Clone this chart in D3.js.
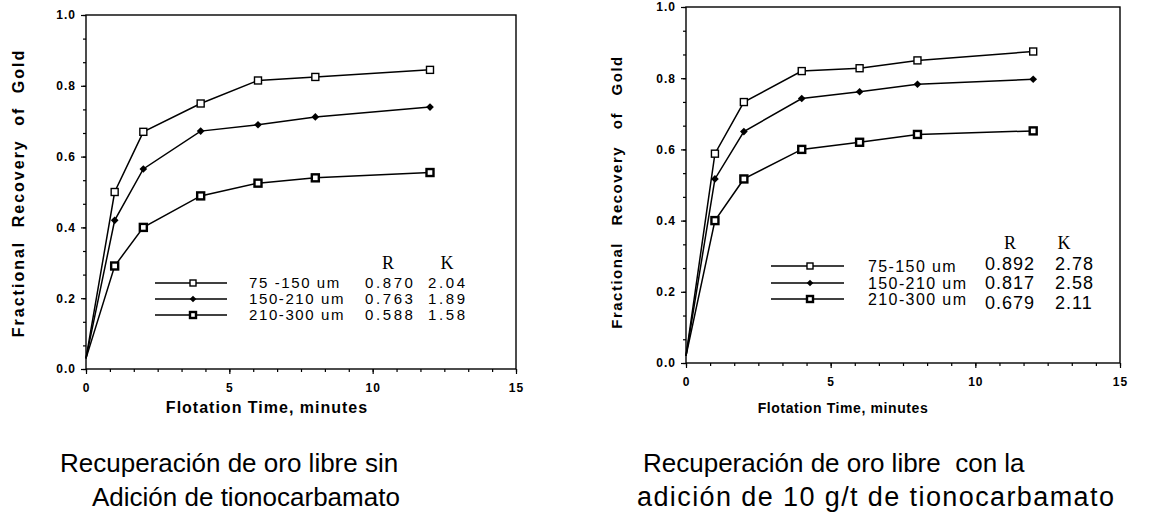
<!DOCTYPE html>
<html>
<head>
<meta charset="utf-8">
<script src="https://cdn.jsdelivr.net/npm/d3@7"></script>
<style>
  html, body { margin: 0; padding: 0; background: #fff; }
  svg { display: block; }
</style>
</head>
<body>
<svg id="chart" width="1153" height="514"></svg>
<script>
// ---- data ----
const times = [0, 1, 2, 4, 6, 8, 12];
const seriesNames = ["75 -150 um", "150-210 um", "210-300 um"];
const seriesNamesRight = ["75-150 um", "150-210 um", "210-300 um"];

// Left panel: without thionocarbamate
const leftS1 = [0.03, 0.50, 0.67, 0.75, 0.815, 0.825, 0.845];
const leftS2 = [0.03, 0.42, 0.565, 0.672, 0.69, 0.712, 0.74];
const leftS3 = [0.03, 0.291, 0.40, 0.489, 0.525, 0.54, 0.555];
const leftR = ["0.870", "0.763", "0.588"];
const leftK = ["2.04", "1.89", "1.58"];

// Right panel: with 10 g/t thionocarbamate
const rightS1 = [0.02, 0.588, 0.733, 0.82, 0.828, 0.85, 0.875];
const rightS2 = [0.02, 0.517, 0.65, 0.743, 0.762, 0.783, 0.797];
const rightS3 = [0.02, 0.40, 0.517, 0.60, 0.62, 0.642, 0.652];
const rightR = ["0.892", "0.817", "0.679"];
const rightK = ["2.78", "2.58", "2.11"];

const xTicks = [0, 5, 10, 15];
const yTicks = [0.0, 0.2, 0.4, 0.6, 0.8, 1.0];
const xTitle = "Flotation Time, minutes";
const yTitleWords = ["Fractional", "Recovery", "of", "Gold"];
const captionLeft = ["Recuperación de oro libre sin", "Adición de tionocarbamato"];
const captionRight = ["Recuperación de oro libre  con la", "adición de 10 g/t de tionocarbamato"];

const svg = d3.select("#chart");
const SANS = "'Liberation Sans', Arial, sans-serif";
const SERIF = "'Liberation Serif', 'Times New Roman', serif";

function marker(g, type, x, y, s) {
  if (type === 0) {
    g.append("rect").attr("x", x - s/2).attr("y", y - s/2).attr("width", s).attr("height", s)
      .attr("fill", "#fff").attr("stroke", "#000").attr("stroke-width", 1.4);
  } else if (type === 1) {
    const d = s * 0.55;
    g.append("path").attr("d", `M${x},${y-d}L${x+d},${y}L${x},${y+d}L${x-d},${y}Z`).attr("fill", "#000");
  } else {
    g.append("rect").attr("x", x - s/2).attr("y", y - s/2).attr("width", s).attr("height", s)
      .attr("fill", "#fff").attr("stroke", "#000").attr("stroke-width", 2.4);
  }
}

function panel(cfg) {
  const x = d3.scaleLinear().domain([0, 15]).range([cfg.x0, cfg.x1]);
  const y = d3.scaleLinear().domain([0, 1]).range([cfg.y0, cfg.y1]);
  const g = svg.append("g");

  // frame
  g.append("rect").attr("x", cfg.x0).attr("y", cfg.y1).attr("width", cfg.x1 - cfg.x0).attr("height", cfg.y0 - cfg.y1)
    .attr("fill", "none").attr("stroke", "#000").attr("stroke-width", 1.4);

  // minor ticks
  const xMinor = d3.range(0, 15.001, 5/6);
  const yMinor = d3.range(0, 1.0001, 0.2/3);
  g.append("g").attr("transform", `translate(0,${cfg.y0})`)
    .call(d3.axisBottom(x).tickValues(xMinor).tickSize(3).tickFormat(""))
    .call(a => a.select(".domain").remove());
  g.append("g").attr("transform", `translate(${cfg.x0},0)`)
    .call(d3.axisLeft(y).tickValues(yMinor).tickSize(3).tickFormat(""))
    .call(a => a.select(".domain").remove());
  // major ticks with labels
  const xa = g.append("g").attr("transform", `translate(0,${cfg.y0})`)
    .call(d3.axisBottom(x).tickValues(xTicks).tickSize(5).tickPadding(9).tickFormat(d3.format("d")));
  const ya = g.append("g").attr("transform", `translate(${cfg.x0},0)`)
    .call(d3.axisLeft(y).tickValues(yTicks).tickSize(5).tickPadding(5).tickFormat(d3.format(".1f")));
  [xa, ya].forEach(a => {
    a.select(".domain").remove();
    a.selectAll("text").attr("font-family", SANS).attr("font-weight", "bold")
      .attr("font-size", 12).attr("letter-spacing", "1px").attr("fill", "#000");
  });
  g.selectAll(".tick line").attr("stroke", "#000").attr("stroke-width", 1.2);

  // lines
  const line = d3.line().x((d, i) => x(times[i])).y(d => y(d));
  cfg.series.forEach((s) => {
    g.append("path").datum(s).attr("d", line).attr("fill", "none")
      .attr("stroke", "#000").attr("stroke-width", 1.5);
  });
  cfg.series.forEach((s, si) => {
    s.forEach((v, i) => { if (i > 0) marker(g, si, x(times[i]), y(v), 7); });
  });

  // axis titles
  g.append("text").attr("x", cfg.xtX).attr("y", cfg.xtY).attr("text-anchor", "middle")
    .attr("font-family", SANS).attr("font-weight", "bold").attr("font-size", cfg.xtSize)
    .attr("letter-spacing", cfg.xtLs).text(xTitle);
  g.append("text").attr("transform", `translate(${cfg.ytX},${cfg.ytY}) rotate(-90)`)
    .attr("text-anchor", "middle").attr("font-family", SANS).attr("font-weight", "bold")
    .attr("font-size", cfg.ytSize).attr("letter-spacing", cfg.ytLs).attr("word-spacing", cfg.ytWs)
    .text(yTitleWords.join(" "));

  // legend
  const L = cfg.legend;
  g.append("text").attr("x", L.rX).attr("y", L.hY).attr("text-anchor", "middle")
    .attr("font-family", SERIF).attr("font-size", L.hSize).text("R");
  g.append("text").attr("x", L.kX).attr("y", L.hY).attr("text-anchor", "middle")
    .attr("font-family", SERIF).attr("font-size", L.hSize).text("K");
  cfg.names.forEach((n, i) => {
    const ry = L.rows[i];
    g.append("line").attr("x1", L.lx0).attr("x2", L.lx1).attr("y1", ry).attr("y2", ry)
      .attr("stroke", "#000").attr("stroke-width", 1.3);
    marker(g, i, L.mx, ry, 6);
    g.append("text").attr("x", L.tX).attr("y", ry).attr("dy", "0.36em")
      .attr("font-family", SANS).attr("font-size", L.tSize).attr("letter-spacing", L.tLs).text(n);
    g.append("text").attr("x", L.vX).attr("y", L.vRows[i]).attr("dy", "0.36em")
      .attr("font-family", SANS).attr("font-size", L.vSize).attr("letter-spacing", L.vLs).text(cfg.R[i]);
    g.append("text").attr("x", L.v2X).attr("y", L.vRows[i]).attr("dy", "0.36em")
      .attr("font-family", SANS).attr("font-size", L.vSize).attr("letter-spacing", L.vLs).text(cfg.K[i]);
  });

  // caption
  cfg.caption.forEach((c, i) => {
    g.append("text").attr("x", cfg.capX[i]).attr("y", cfg.capY[i]).attr("text-anchor", "start")
      .attr("font-family", SANS).attr("font-size", cfg.capSize[i]).attr("letter-spacing", cfg.capLs[i])
      .style("white-space", "pre").text(c);
  });
}

panel({
  x0: 86, x1: 516, y0: 369, y1: 15,
  series: [leftS1, leftS2, leftS3], names: seriesNames, R: leftR, K: leftK,
  xtX: 267, xtY: 413, xtSize: 16, xtLs: "1px",
  ytX: 24, ytY: 193, ytSize: 16, ytLs: "2px", ytWs: "7px",
  legend: { hY: 269, rX: 388, kX: 447, hSize: 18, rows: [283, 299, 315], vRows: [283, 299, 315],
            lx0: 155, lx1: 227, mx: 193, tX: 249, tSize: 15, tLs: "1.6px",
            vX: 365, v2X: 428, vSize: 15, vLs: "2.6px" },
  caption: captionLeft, capX: [60, 92], capY: [472, 506], capSize: [26, 26], capLs: ["0px", "0px"]
});

panel({
  x0: 686, x1: 1120, y0: 363, y1: 7,
  series: [rightS1, rightS2, rightS3], names: seriesNamesRight, R: rightR, K: rightK,
  xtX: 843, xtY: 413, xtSize: 14, xtLs: "0.6px",
  ytX: 622, ytY: 192, ytSize: 15, ytLs: "1.5px", ytWs: "11px",
  legend: { hY: 249, rX: 1010, kX: 1064, hSize: 18, rows: [266, 283, 299], vRows: [264, 283, 303],
            lx0: 771, lx1: 844, mx: 810, tX: 868, tSize: 16, tLs: "1.4px",
            vX: 985, v2X: 1055, vSize: 18, vLs: "1px" },
  caption: captionRight, capX: [643, 637], capY: [472, 506], capSize: [26, 27], capLs: ["0px", "1.4px"]
});
</script>
</body>
</html>
